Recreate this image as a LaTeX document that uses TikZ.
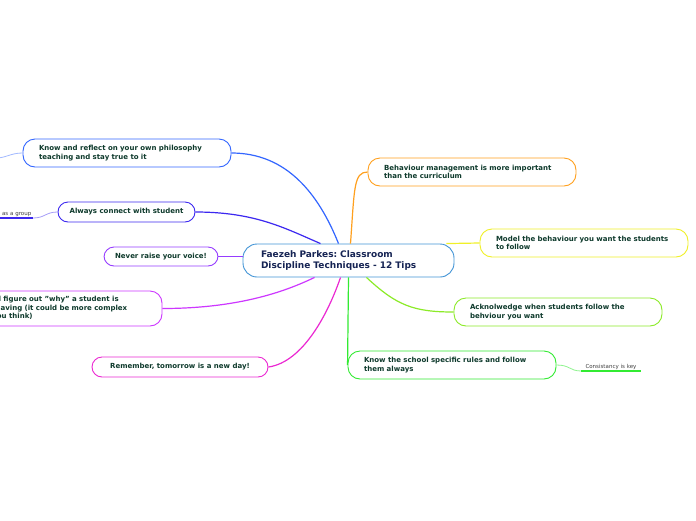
\documentclass[tikz,border=0pt]{standalone}
\usepackage{fontspec}
\setmainfont{DejaVu Sans}
\usepackage{xcolor}
\usepackage{tikz}
\frenchspacing
\definecolor{tipink}{RGB}{14,58,44}
\definecolor{hubink}{RGB}{22,36,84}
\definecolor{hubline}{RGB}{66,148,214}
\definecolor{reflectblue}{RGB}{51,102,255}
\definecolor{connectblue}{RGB}{60,40,240}
\definecolor{voiceviolet}{RGB}{150,60,255}
\definecolor{whymagenta}{RGB}{205,55,255}
\definecolor{daypink}{RGB}{235,40,210}
\definecolor{mgmtorange}{RGB}{255,160,30}
\definecolor{modelyellow}{RGB}{240,240,40}
\definecolor{acklime}{RGB}{140,235,40}
\definecolor{rulegreen}{RGB}{50,235,50}

\tikzset{
  hub/.style={draw=hubline, fill=white, rounded corners=14pt, line width=0.9pt, text=hubink, font=\fontsize{9}{11}\selectfont\bfseries, align=left, text width=175pt, inner xsep=18pt, minimum height=33pt},
  tip/.style={draw, fill=white, rounded corners=12pt, line width=0.9pt, text=tipink, font=\fontsize{7}{8.5}\selectfont\bfseries, align=left, text width=176pt, inner xsep=16pt, minimum height=28pt},
  shorttip/.style={draw, fill=white, rounded corners=10pt, line width=0.9pt, text=tipink, font=\fontsize{7}{8.5}\selectfont\bfseries, minimum height=20pt},
  note/.style={font=\fontsize{5.5}{6.5}\selectfont, text=black!75, inner sep=1.5pt},
  branch/.style={line width=1.2pt},
  twig/.style={line width=0.8pt}
}

\begin{document}
\begin{tikzpicture}[x=1pt, y=-1pt]
\useasboundingbox (0,0) rectangle (696,520);
\fill[white] (0,0) rectangle (696,520);
\clip (0,0) rectangle (696,520);

\node[hub] (hub) at (348.5,260.5) {Faezeh Parkes: Classroom\\Discipline Techniques - 12 Tips};

\node[tip, draw=reflectblue] (reflect) at (127,153) {Know and reflect on your own philosophy\\teaching and stay true to it};
\node[shorttip, draw=connectblue, minimum width=137pt] (connect) at (126.5,212) {Always connect with student};
\node[shorttip, draw=voiceviolet, minimum width=114pt, minimum height=19pt] (voice) at (161,256.5) {Never raise your voice!};
\node[tip, draw=whymagenta, minimum height=35pt, text width=172pt, inner xsep=18pt] (why) at (58,308.5) {Try and figure out "why" a student is\\misbehaving (it could be more complex\\than you think)};
\node[shorttip, draw=daypink, minimum width=176pt] (day) at (180,367) {Remember, tomorrow is a new day!};

\node[tip, draw=mgmtorange] (mgmt) at (472,172) {Behaviour management is more important\\than the curriculum};
\node[tip, draw=modelyellow] (model) at (584,243) {Model the behaviour you want the students\\to follow};
\node[tip, draw=acklime] (ack) at (558,312) {Acknolwedge when students follow the\\behviour you want};
\node[tip, draw=rulegreen] (rules) at (452,365) {Know the school specific rules and follow\\them always};

\node[note, anchor=south, text width=56pt, align=center] (consist) at (611,371) {Consistancy is key};
\node[note, anchor=south east, text width=40pt, align=right] (group) at (33,218) {as a group};
\coordinate (reflectkid) at (-4,158);

\draw[branch, reflectblue] ([xshift=-10pt]hub.north) .. controls +(-20,-50) and +(55,0) .. (reflect.east);
\draw[branch, connectblue] ([xshift=-28pt]hub.north) .. controls +(-35,-15) and +(60,0) .. (connect.east);
\draw[branch, voiceviolet] (voice.east) -- (voice.east -| hub.west);
\draw[branch, whymagenta] (why.east) .. controls +(80,0) and +(-25,12) .. ([xshift=-34pt]hub.south);
\draw[branch, daypink] (day.east) .. controls +(35,-5) and +(-12,35) .. ([xshift=-8pt]hub.south);
\draw[branch, mgmtorange] ([xshift=2pt]hub.north) .. controls +(4,-55) and +(-14,0) .. (mgmt.west);
\draw[branch, modelyellow] ([xshift=-8pt]hub.north east) -- (model.west);
\draw[branch, acklime] ([xshift=18pt]hub.south) .. controls +(30,28) and +(-40,0) .. (ack.west);
\draw[branch, rulegreen] (hub.south) -- (rules.west);

\draw[twig, rulegreen!55] (rules.east) .. controls +(14,0) and +(-12,0) .. (consist.south west);
\draw[branch, rulegreen] (consist.south west) -- (consist.south east);
\draw[twig, connectblue!45] (connect.west) .. controls +(-12,0) and +(12,0) .. (group.south east);
\draw[branch, connectblue] (group.south east) -- (group.south west);
\draw[twig, reflectblue!45] (reflect.west) .. controls +(-12,0) and +(10,0) .. (reflectkid);
\end{tikzpicture}
\end{document}
